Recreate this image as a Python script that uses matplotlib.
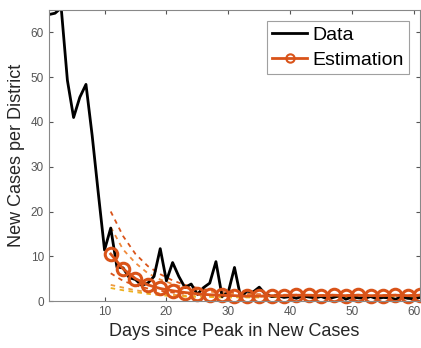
import numpy as np
import matplotlib.pyplot as plt

plt.rcParams['font.family'] = ['Liberation Sans', 'DejaVu Sans']

# observed daily new cases per district, days 1..61 after the peak
days = np.arange(1, 62)
cases = [64.0, 64.3, 65.5, 49.3, 41.0, 45.5, 48.4, 37.0, 24.0, 11.4,
         16.3, 7.6, 7.4, 5.2, 4.8, 3.5, 4.0, 5.5, 11.7, 4.5,
         8.6, 5.5, 3.0, 3.8, 1.5, 3.0, 4.0, 8.8, 1.0, 2.0,
         7.5, 0.8, 2.2, 2.0, 3.1, 1.5, 1.0, 1.2, 0.8, 1.0,
         0.6, 1.1, 0.9, 0.7, 1.0, 0.5, 0.8, 1.2, 0.4, 0.9,
         0.7, 0.6, 1.0, 0.5, 0.8, 0.7, 0.4, 0.9, 0.6, 0.5, 0.8]

# model estimate, every second day from day 11
est_days = np.arange(11, 62, 2)
estimate = [10.5, 7.2, 5.0, 3.6, 2.8, 2.3, 1.9, 1.6, 1.4, 1.3,
            1.2, 1.1, 1.1, 1.2, 1.2, 1.3, 1.3, 1.2, 1.3, 1.2,
            1.3, 1.2, 1.2, 1.3, 1.2, 1.3]

# bounds around the estimate
band_hi = [20.0, 14.5, 10.5, 7.8, 6.0, 4.6, 3.6, 2.9, 2.4, 2.0,
           1.8, 1.6, 1.5, 1.4, 1.4, 1.4, 1.4, 1.3, 1.4, 1.3,
           1.4, 1.3, 1.3, 1.4, 1.3, 1.4]
band_mid_hi = [16.5, 11.5, 8.5, 6.2, 4.8, 3.8, 3.0, 2.5, 2.1, 1.8,
               1.6, 1.5, 1.4, 1.3, 1.3, 1.3, 1.3, 1.2, 1.3, 1.2,
               1.3, 1.2, 1.2, 1.3, 1.2, 1.3]
band_mid_lo = [6.2, 4.5, 3.5, 2.8, 2.3, 1.9, 1.6, 1.4, 1.3, 1.2,
               1.1, 1.0, 1.0, 1.1, 1.1, 1.2, 1.2, 1.1, 1.2, 1.1,
               1.2, 1.1, 1.1, 1.2, 1.1, 1.2]
band_lo = [3.6, 3.0, 2.4, 2.0, 1.7, 1.4, 1.2, 1.1, 1.0, 1.0,
           0.9, 0.9, 0.9, 1.0, 1.0, 1.0, 1.0, 1.0, 1.0, 1.0,
           1.0, 1.0, 1.0, 1.0, 1.0, 1.0]
band_min = [2.9, 2.4, 2.0, 1.6, 1.3, 1.1, 1.0, 0.9, 0.9, 0.8,
            0.8, 0.8, 0.8, 0.9, 0.9, 0.9, 0.9, 0.9, 0.9, 0.9,
            0.9, 0.9, 0.9, 0.9, 0.9, 0.9]

orange = '#D95319'
fig = plt.figure(figsize=(4.21, 3.48), dpi=100)
ax = fig.add_axes([0.116, 0.135, 0.882, 0.836])

for vals, col in [(band_hi, orange), (band_mid_hi, '#F08A3C'),
                  (band_mid_lo, orange), (band_lo, '#EE9A40'),
                  (band_min, '#EDB120')]:
    ax.plot(est_days, vals, '--', color=col, lw=1.3, dashes=(2.5, 2.5))

ax.plot(days, cases, color='black', lw=2, label='Data')
ax.plot(est_days, estimate, '-o', color=orange, lw=2, ms=9, mfc='none',
        mew=2.2, label='Estimation', clip_on=False)

ax.set_xlim(1, 61)
ax.set_ylim(0, 65)
ax.set_xticks([10, 20, 30, 40, 50, 60])
ax.set_yticks(range(0, 61, 10))
ax.tick_params(direction='in', length=3, labelsize=8.5, colors='#555555',
               top=True, right=True)
for sp in ax.spines.values():
    sp.set_color('#888888')
    sp.set_linewidth(0.8)

ax.set_xlabel('Days since Peak in New Cases', fontsize=13, color='#262626')
ax.set_ylabel('New Cases per District', fontsize=13, color='#262626')

leg = ax.legend(loc='upper right', fontsize=14, frameon=True, fancybox=False,
                handlelength=1.8, handletextpad=0.25, borderpad=0.3,
                labelspacing=0.35, borderaxespad=0.55)
leg.get_frame().set_edgecolor('#888888')
leg.get_frame().set_linewidth(0.8)
est_handle = leg.legend_handles[1]
est_handle.set_markersize(6)
est_handle.set_markeredgewidth(1.5)

fig.savefig('out.png', dpi=100)
